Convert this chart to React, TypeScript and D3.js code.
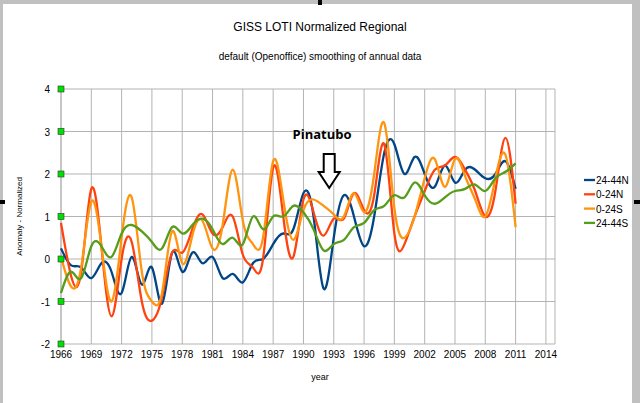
import * as d3 from "d3";

const years = d3.range(1966, 2012);
const xTicks = d3.range(1966, 2015, 3);
const yTicks = [-2, -1, 0, 1, 2, 3, 4];

const n24_44 = [0.25, -0.15, -0.2, -0.45, -0.1, -0.3, -0.8, 0.05, -0.6, -0.2, -1.05, 0.15, -0.3, 0.15, -0.1, 0.05, -0.45, -0.35, -0.55, -0.1, 0.0, 0.35, 0.6, 0.7, 1.55, 1.0, -0.7, 0.5, 1.5, 1.0, 0.3, 1.0, 2.5, 2.7, 2.0, 2.4, 2.0, 1.7, 2.2, 1.8, 2.1, 2.1, 1.9, 2.0, 2.3, 1.65];
const n0_24 = [0.85, -0.4, -0.3, 1.65, 0.3, -1.35, 0.0, 0.4, -1.0, -1.45, -0.9, 0.15, 0.15, 0.7, 1.05, 0.6, 0.75, 1.0, 0.1, -0.2, 0.0, 2.15, 1.0, 0.05, 1.4, 1.1, 0.55, 0.95, 0.95, 1.55, 1.15, 1.5, 2.7, 0.6, 0.35, 1.0, 1.6, 2.1, 2.2, 2.4, 2.1, 1.6, 1.0, 1.6, 2.85, 1.3];
const s0_24 = [0.05, -0.65, -0.2, 1.35, 0.3, -1.0, 0.5, 1.45, -0.3, -1.0, -0.8, 0.65, -0.1, 0.55, 0.9, 0.25, 0.8, 2.1, 0.9, 0.35, 0.5, 2.3, 1.4, 0.45, 1.15, 1.4, 1.25, 1.05, 1.0, 1.55, 1.1, 2.0, 3.2, 1.2, 0.5, 1.0, 1.9, 2.35, 1.7, 2.35, 1.95, 1.4, 1.0, 1.9, 2.45, 0.75];
const s24_44 = [-0.8, -0.3, -0.45, 0.3, 0.3, 0.05, 0.6, 0.8, 0.65, 0.4, 0.25, 0.75, 0.6, 0.8, 0.95, 0.7, 0.35, 0.5, 0.35, 1.0, 0.7, 1.0, 1.0, 1.25, 1.1, 0.7, 0.2, 0.35, 0.45, 0.75, 0.85, 1.15, 1.25, 1.5, 1.45, 1.8, 1.5, 1.3, 1.45, 1.6, 1.65, 1.75, 1.6, 1.9, 2.05, 2.25];

const series = [
  { name: "24-44N", values: n24_44, color: "#004586" },
  { name: "0-24N", values: n0_24, color: "#ff420e" },
  { name: "0-24S", values: s0_24, color: "#ff950e" },
  { name: "24-44S", values: s24_44, color: "#579d1c" },
];

const W = 640, H = 403;
const left = 61, right = 555, top = 89, bottom = 344;

export default function App() {
  const x = d3.scaleLinear().domain([1966, 2014.9]).range([left, right]);
  const y = d3.scaleLinear().domain([-2, 4]).range([bottom, top]);
  const line = d3.line<number>()
    .x((_, i) => x(years[i]))
    .y((d) => y(d))
    .curve(d3.curveNatural);
  const font = "'Liberation Sans', Arial, sans-serif";
  const ax = x(1992.5);
  return (
    <svg width={W} height={H} style={{ position: "absolute", left: 0, top: 0, background: "#fff" }} fontFamily={font}>
      <rect x={0} y={0} width={W} height={4} fill="#c0c0c0" />
      <rect x={0} y={0} width={3} height={H} fill="#c0c0c0" />
      <rect x={632} y={0} width={8} height={H} fill="#c0c0c0" />
      <rect x={318} y={0} width={4} height={5} fill="#000" />
      <rect x={634} y={200} width={6} height={4} fill="#000" />
      <rect x={0} y={200} width={5} height={4} fill="#000" />
      <text x={320} y={31} textAnchor="middle" fontSize={12}>GISS LOTI Normalized Regional</text>
      <text x={320} y={60} textAnchor="middle" fontSize={10}>default (Openoffice) smoothing of annual data</text>
      {xTicks.map((t) => (
        <g key={t}>
          <line x1={x(t)} x2={x(t)} y1={top} y2={bottom} stroke="#b3b3b3" />
          <text x={x(t)} y={358} textAnchor="middle" fontSize={10}>{t}</text>
        </g>
      ))}
      {yTicks.map((t) => (
        <g key={t}>
          <line x1={left} x2={right} y1={y(t)} y2={y(t)} stroke="#b3b3b3" />
          <text x={50} y={y(t) + 4} textAnchor="end" fontSize={10}>{t}</text>
        </g>
      ))}
      <line x1={right} x2={right} y1={top} y2={bottom} stroke="#b3b3b3" />
      <line x1={left} x2={left} y1={top} y2={bottom} stroke="#b3b3b3" />
      {series.map((s) => (
        <path key={s.name} d={line(s.values) || ""} fill="none" stroke={s.color} strokeWidth={2.3} />
      ))}
      {yTicks.map((t) => (
        <rect key={"m" + t} x={left - 3} y={y(t) - 3} width={6} height={6} fill="#00e000" stroke="#333" strokeWidth={0.6} />
      ))}
      <text x={320} y={380} textAnchor="middle" fontSize={9}>year</text>
      <text transform={`translate(22,${(top + bottom) / 2}) rotate(-90)`} textAnchor="middle" fontSize={8}>Anomaly - Normalized</text>
      <text x={322} y={139} textAnchor="middle" fontSize={13} fontWeight="bold" fontFamily="'Open Sans', sans-serif">Pinatubo</text>
      <path d={`M${ax - 5},154 H${ax + 6} V172 H${ax + 11} L${ax + 0.5},188 L${ax - 10},172 H${ax - 5} Z`} fill="#fff" stroke="#000" strokeWidth={2} />
      {series.map((s, i) => (
        <g key={"l" + s.name} transform={`translate(584,${180 + i * 14.3})`}>
          <line x1={0} x2={11} y1={0} y2={0} stroke={s.color} strokeWidth={2.3} />
          <text x={12} y={4} fontSize={10}>{s.name}</text>
        </g>
      ))}
    </svg>
  );
}
